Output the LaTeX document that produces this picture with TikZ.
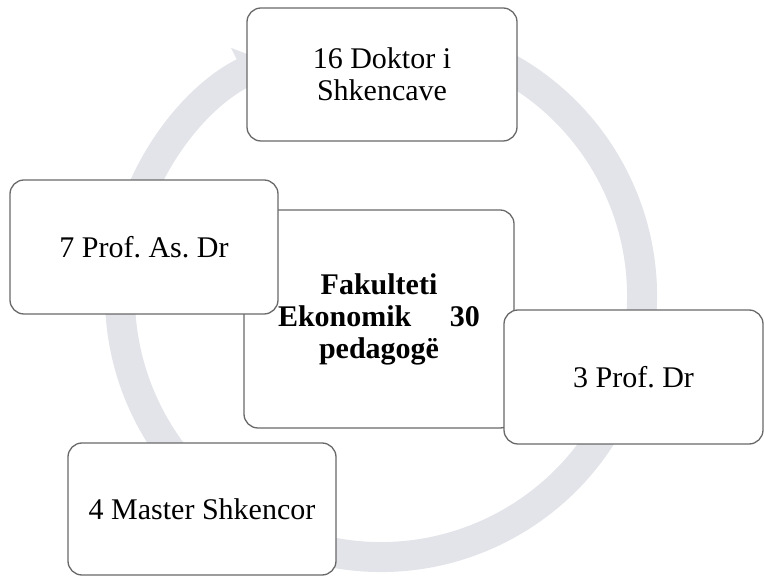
\documentclass[tikz,border=0pt]{standalone}
\usepackage{fontspec}
\setmainfont{Liberation Serif}
\frenchspacing
\usepackage{xcolor}
\usepackage{tikz}
\usetikzlibrary{positioning,calc,arrows.meta}

\definecolor{ringgray}{RGB}{226,228,233}
\definecolor{boxline}{RGB}{105,105,105}

\begin{document}
\begin{tikzpicture}[x=1pt,y=1pt,
    ring/.style={line width=30pt, draw=ringgray, -{Triangle[length=26pt,width=54pt]}},
    rank/.style={draw=boxline, line width=1.3pt, fill=white, rounded corners=14pt,
      align=center, inner sep=0pt, font=\fontsize{30}{32}\selectfont},
    hubbox/.style={rank, font=\bfseries\fontsize{30}{32}\selectfont}]
  \useasboundingbox (0,0) rectangle (764,576);
  \coordinate (hub) at (381,280);

  % cycle arrow
  \draw[ring] ([shift={(75:261)}]hub) arc[start angle=75, end angle=-244, radius=261];

  % centre
  \node[hubbox, minimum width=270, minimum height=218, text width=202] (fak) at (379,257)
    {Fakulteti\\Ekonomik\hfill 30\\pedagogë};

  % ranks
  \node[rank, minimum width=270, minimum height=133] (dok) at (382,501.5) {16 Doktor i\\Shkencave};
  \node[rank, minimum width=268, minimum height=134] (asdr) at (144,329) {7 Prof. As. Dr};
  \node[rank, minimum width=259, minimum height=134] (prof) at (633.5,199) {3 Prof. Dr};
  \node[rank, minimum width=268, minimum height=132] (mast) at (202,67) {4 Master Shkencor};

\end{tikzpicture}
\end{document}
